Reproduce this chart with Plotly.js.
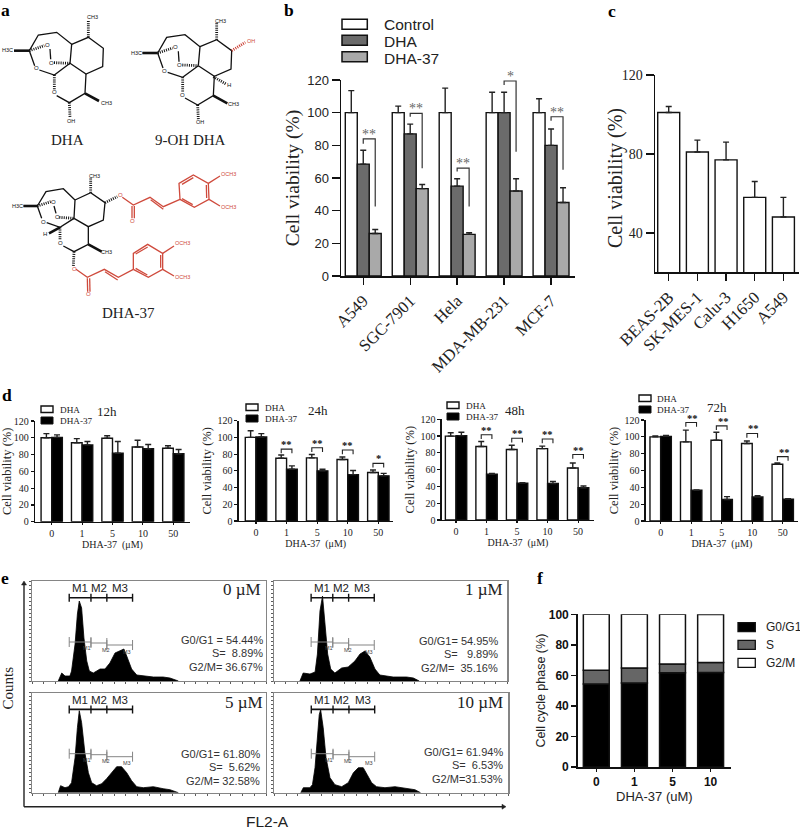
<!DOCTYPE html>
<html><head><meta charset="utf-8">
<script src="https://cdn.plot.ly/plotly-3.0.1.min.js"></script>
<style>html,body{margin:0;padding:0;background:#fff}</style></head>
<body><div id="chart" style="width:800px;height:829px"></div>
<script>
// ---------- data ----------
const bCats = ['A549','SGC-7901','Hela','MDA-MB-231','MCF-7'];
const bControl = [100,100,100,100,100];
const bControlErr = [13.5,4,15,12.5,8.5];
const bDHA = [68.5,87,55,100,80];
const bDHAErr = [8.5,6,4.5,12.5,10];
const bDHA37 = [26,53.5,25.5,52,45];
const bDHA37Err = [2.5,2.5,1,7.5,9];
const bBrackets = [[84,81,42.5,'**'],[99.6,97.5,66,'**'],[66,64,42.5,'**'],[119.4,117,76,'*'],[97.5,95,65,'**']];

const cCats = ['BEAS-2B','SK-MES-1','Calu-3','H1650','A549'];
const cVals = [101,81,77,58,48];
const cErr = [3,6,9,8,10];

const dCats = ['0','1','5','10','50'];
const d12DHA = [100,94,99.5,89,87.5], d12DHAErr = [5,5,3,8,3];
const d12D37 = [100.5,91.5,81.5,87,81], d12D37Err = [3,4,14,5,5];
const d24DHA = [100,75,75.5,73.5,58], d24DHAErr = [8,4,4,3,3];
const d24D37 = [100.5,62,60,55.5,54], d24D37Err = [4,4,2,5,3];
const d48DHA = [100,87.5,84,85,62], d48DHAErr = [4,6,5,3,6];
const d48D37 = [100.5,54.5,44,43.5,38.5], d48D37Err = [4,1,0.5,2.5,2];
const d72DHA = [100,94,96,92,67.5], d72DHAErr = [1,14,9.5,3,1.5];
const d72D37 = [100.5,36.5,25.5,28.5,26], d72D37Err = [1,0.5,3.5,1.5,0.5];
const d24Sig = [[1,86,'**'],[2,87.6,'**'],[3,85,'**'],[4,69,'*']];
const d48Sig = [[1,101.5,'**'],[2,97.5,'**'],[3,96.5,'**'],[4,78,'**']];
const d72Sig = [[1,117,'**'],[2,113,'**'],[3,104,'**'],[4,76.5,'**']];

const hist0X=[11.1,12.6,14,16.1,16.8,18.3,19.3,20.1,21.1,22.1,23.3,24.4,26.1,29,31.1,33.2,35.4,37.5,39.2,40.4,42.5,44.7,47.5,51.8,56,58.9,62.5];
const hist0Y=[0,8,5,5,10,37,67,80,73,43,20,10,8,12,12,18,28,30,32,25,12,6,5,4,4,3,0];
const hist1X=[11,12.4,15.3,17.5,18.5,19.6,20.7,21.7,22.9,24.2,26,28.9,31.7,34.6,36.8,38.9,41,43.2,45.3,51,56.8,59.7,62.2];
const hist1Y=[0,8,7,9,27,70,85,60,27,12,8,13,14,20,27,30,24,12,6,4,4,3,0];
const hist2X=[11.1,12.1,14,15.5,16.8,18.3,19.3,20.1,21.1,22.5,24,25.4,27.5,29.7,31.8,34,36.1,38.2,40.4,42.5,44.7,47.5,51.8,56,58.9,62.5];
const hist2Y=[0,7,5,6,10,35,65,82,70,40,20,10,7,9,14,20,26,26,20,12,6,5,6,4,3,0];
const hist3X=[11.3,12.4,15.2,16.3,17.4,18.4,19.2,19.8,20.9,22.1,23.8,25.9,28.8,31.6,33.8,35.9,38,39.7,41.6,43.7,47.3,51.6,56.6,60.1,62.5];
const hist3Y=[0,5,5,8,25,60,78,83,65,35,15,8,6,10,20,25,25,18,10,6,5,6,4,3,0];
const doseLabels = ['0 µM','1 µM','5 µM','10 µM'];
const statText = [
 ['G0/G1 = 54.44%','S=\u00a0\u00a08.89%','G2/M= 36.67%'],
 ['G0/G1= 54.95%','S=\u00a0\u00a0\u00a09.89%','G2/M=\u00a0\u00a035.16%'],
 ['G0/G1= 61.80%','S=\u00a0\u00a05.62%','G2/M= 32.58%'],
 ['G0/G1= 61.94%','S=\u00a0\u00a06.53%','G2/M=31.53%']];

const fCats = ['0','1','5','10'];
const fG0G1 = [54.4,55,61.8,61.9];
const fS = [8.9,9.9,5.6,6.5];
const fG2M = [36.7,35.1,32.6,31.5];

// structure diagrams of panel a: polylines in reference zoom units
const dhaBonds=[[[88,152],[115,105],[170,97],[215,133],[210,190]],[[215,133],[265,112],[310,145],[308,200],[258,222],[210,190]],[[258,222],[255,280],[208,308],[170,287]],[[88,152],[104,197]],[[118,210],[163,225],[210,190]],[[150,147],[152,178]]];
const dhaWedge=[[[42,152],[88,152]],[[255,280],[297,303]]];
const dhaHash=[[[265,112],[265,62]],[[163,225],[163,268]],[[88,152],[133,137]],[[162,188],[210,190]],[[208,308],[210,352]]];
const oh9Wedge=[[[640,230],[678,252]]];
const oh9Red=[[[695,152],[736,127]]];
const d37Bonds=[[[112,618],[138,575],[190,566],[225,600],[222,655]],[[225,600],[272,578],[315,608],[310,660],[265,680],[222,655]],[[265,680],[265,733],[222,755],[190,738]],[[112,618],[125,655]],[[140,668],[180,682],[222,655]],[[162,618],[168,640]]];
const d37Wedge=[[[70,618],[112,618]],[[265,733],[305,755]],[[180,682],[147,700]]];
const d37Hash=[[[272,578],[272,535]],[[180,682],[180,720]],[[112,618],[152,605]],[[178,652],[222,655]],[[315,608],[352,590]],[[222,755],[220,798]]];
const d37Red=[[[367,592],[400,615],[450,592],[490,620],[540,598]],[[396,618],[396,655]],[[403,618],[403,655]],[[452,599],[490,628]],
 [[540,598],[537,550],[580,525],[625,550],[627,598],[583,622],[540,598]],[[546,553],[580,533]],[[619,555],[620,594]],[[578,614],[546,596]],[[625,550],[660,528]],[[627,598],[660,618]],
 [[228,808],[262,832],[313,808],[355,832],[400,808]],[[262,835],[263,875]],[[269,835],[270,875]],[[315,815],[353,840]],
 [[400,808],[400,760],[443,733],[488,760],[488,808],[445,832],[400,808]],[[407,762],[443,741]],[[482,765],[482,803]],[[442,825],[407,805]],[[488,760],[522,738]],[[488,808],[522,828]]];
const blackLabels=[['CH3',277,52],['H3C',22,150],['CH3',318,308],['OH',213,362],['O',142,135],['O',153,188],['O',108,205],['O',163,277],
 ['CH3',660,62],['H3C',410,160],['CH3',700,313],['OH',600,365],['H',688,255],['O',527,142],['O',538,195],['O',493,212],['O',548,284],
 ['CH3',282,527],['H3C',52,617],['CH3',318,755],['H',135,703],['O',160,605],['O',172,652],['O',130,665],['O',180,728]];
const redLabels=[['OH',752,123],['OCH3',686,522],['OCH3',686,622],['OCH3',548,730],['OCH3',548,832],['O',360,585],['O',222,808],['O',398,663],['O',265,882]];

// ---------- helpers ----------
const SERIF='Liberation Serif', SANS='Liberation Sans', INK='#111';
const W=800,H=829,OV=12;
const xd=(l,r)=>[l/W,r/W], yd=(t,b)=>[1-b/H,1-t/H];
const traces=[],shapes=[],annos=[],layout={};
function ax(n,k){return k+(n===1?'':n);}
function lay(n,k){return k+'axis'+(n===1?'':n);}
function txt(s,x,y,size,opt={}){annos.push({text:s,x,y,xref:ax(OV,'x'),yref:ax(OV,'y'),showarrow:false,
  font:{family:opt.family||SERIF,size,color:opt.color||'#222',weight:opt.weight||400},xanchor:opt.anchor||'center',yanchor:'middle',textangle:opt.angle||0});}
function rect(x0,y0,x1,y1,fill,lw=1.5){shapes.push({type:'rect',xref:ax(OV,'x'),yref:ax(OV,'y'),x0,y0,x1,y1,fillcolor:fill,line:{color:INK,width:lw},layer:'above'});}
function polyTrace(list,color,width,dash,dx,dy){const xs=[],ys=[];list.forEach(p=>{p.forEach(q=>{xs.push((q[0]+(dx||0))/3);ys.push((q[1]+(dy||0))/3);});xs.push(null);ys.push(null);});
  traces.push({type:'scatter',mode:'lines',x:xs,y:ys,xaxis:ax(OV,'x'),yaxis:ax(OV,'y'),line:{color,width,dash:dash||'solid'},hoverinfo:'skip',connectgaps:false});}
function axes(n,x0,x1,yt,yb,xr,yr,xo,yo){
  layout[lay(n,'x')]=Object.assign({domain:xd(x0,x1),range:xr,anchor:ax(n,'y'),showgrid:false,zeroline:false,showline:true,linecolor:INK,linewidth:1.5,ticks:'outside',tickcolor:INK,tickwidth:1.4,ticklen:5,fixedrange:true},xo);
  layout[lay(n,'y')]=Object.assign({domain:yd(yt,yb),range:yr,anchor:ax(n,'x'),showgrid:false,zeroline:false,showline:true,linecolor:INK,linewidth:1.5,ticks:'outside',tickcolor:INK,tickwidth:1.4,ticklen:5,fixedrange:true},yo);
}
function bar(n,cats,vals,err,color,offset,width,base,lw){
  const t={type:'bar',x:cats,y:vals,xaxis:ax(n,'x'),yaxis:ax(n,'y'),width,offset,marker:{color,line:{color:INK,width:lw||1.4}},hoverinfo:'skip'};
  if(err)t.error_y={type:'data',array:err,arrayminus:err.map(()=>0),symmetric:false,color:'#222',thickness:1.4,width:3};
  if(base)t.base=base;
  traces.push(t);
}

// ---------- panel b ----------
axes(1,341,575,80,276,[-0.474,4.51],[0,120],
 {type:'category',categoryorder:'array',categoryarray:bCats,ticklen:7,tickangle:-45,tickfont:{family:SERIF,size:16.7,color:'#222'}},
 {tickvals:[0,20,40,60,80,100,120],ticklen:8,tickfont:{family:SANS,size:13,color:'#222'},title:{text:'Cell viability (%)',font:{family:SERIF,size:19.5,color:'#222'},standoff:2}});
const bw=0.255;
bar(1,bCats,bControl,bControlErr,'#ffffff',-1.5*bw,bw);
bar(1,bCats,bDHA,bDHAErr,'#6b6b6b',-0.5*bw,bw);
bar(1,bCats,bDHA37,bDHA37Err,'#a9a9a9',0.5*bw,bw);
bBrackets.forEach((b,i)=>{
  shapes.push({type:'path',xref:'x',yref:'y',path:`M ${i} ${b[1]} L ${i} ${b[0]} L ${i+bw} ${b[0]} L ${i+bw} ${b[2]}`,line:{color:'#333',width:1.2}});
  annos.push({text:b[3],x:i+bw/2,y:b[0],xref:'x',yref:'y',showarrow:false,yanchor:'bottom',yshift:-5,font:{family:SERIF,size:14,color:'#666'}});
});
[['Control',19.3,'#ffffff',24.5],['DHA',35.3,'#6b6b6b',41],['DHA-37',51.7,'#a9a9a9',58]].forEach(l=>{
  rect(342,l[1],367.3,l[1]+10,l[2]); txt(l[0],381.7,l[3],15.5,{family:SANS,anchor:'left'});});

// ---------- panel c ----------
axes(2,655,799.3,75,272.3,[-0.478,4.555],[20,120],
 {type:'category',categoryorder:'array',categoryarray:cCats,ticklen:7,tickangle:-45,tickfont:{family:SERIF,size:16.8,color:'#222'}},
 {tickvals:[40,80,120],ticklen:8,tickfont:{family:SERIF,size:14,color:'#222'}});
bar(2,cCats,cVals,cErr,'#ffffff',-0.383,0.767);
txt('Cell viability (%)',615,178,20,{angle:-90});

// ---------- panel d ----------
const dw=0.35;
function dPanel(n,l,r,t,b,xr,a,aE,c,cE,sig){
  axes(n,l,r,t,b,xr,[0,120],
   {type:'category',categoryorder:'array',categoryarray:dCats,ticklen:2,linewidth:1.3,tickwidth:1.2,tickfont:{family:SERIF,size:10,color:'#222'},title:{text:'DHA-37  (μM)',font:{family:SERIF,size:10,color:'#222'},standoff:1}},
   {tickvals:[0,20,40,60,80,100,120],ticklen:3,linewidth:1.3,tickwidth:1.2,tickfont:{family:SERIF,size:10,color:'#222'},title:{text:'Cell viability (%)',font:{family:SERIF,size:12.5,color:'#222'},standoff:3}});
  bar(n,dCats,a,aE,'#ffffff',-dw,dw);
  bar(n,dCats,c,cE,'#000000',0,dw);
  (sig||[]).forEach(s=>{
    const xa=ax(n,'x'),ya=ax(n,'y');
    shapes.push({type:'path',xref:xa,yref:ya,path:`M ${s[0]-dw/2} ${s[1]-5} L ${s[0]-dw/2} ${s[1]} L ${s[0]+dw/2} ${s[1]} L ${s[0]+dw/2} ${s[1]-5}`,line:{color:'#222',width:1.1}});
    annos.push({text:s[2],x:s[0],y:s[1],xref:xa,yref:ya,showarrow:false,yanchor:'bottom',yshift:-3,xshift:n===6?1.5:0,font:{family:SERIF,size:10.5,color:'#111',weight:700}});
  });
}
dPanel(3,35,190,421,521.7,[-0.55,4.55],d12DHA,d12DHAErr,d12D37,d12D37Err);
dPanel(4,238.7,392.7,420.7,521,[-0.565,4.47],d24DHA,d24DHAErr,d24D37,d24D37Err,d24Sig);
dPanel(5,441.7,594.3,419.3,520,[-0.47,4.53],d48DHA,d48DHAErr,d48D37,d48D37Err,d48Sig);
dPanel(6,645.7,798,420,521,[-0.49,4.5],d72DHA,d72DHAErr,d72D37,d72D37Err,d72Sig);
[[41,406,'12h',107,411,17],[246,404,'24h',318,410,17],[447,402,'48h',515,410,17],[639,395,'72h',717,407.5,16]].forEach(g=>{
  rect(g[0],g[1],g[0]+12,g[1]+6.5,'#ffffff',1.4);
  rect(g[0],g[1]+11,g[0]+12,g[1]+18,'#000000',1);
  txt('DHA',g[0]+g[5],g[1]+3.5,9.2,{anchor:'left'});
  txt('DHA-37',g[0]+g[5],g[1]+15,9.2,{anchor:'left'});
  txt(g[2],g[3],g[4],13);
});

// ---------- panel e ----------
const hist=[[hist0X,hist0Y],[hist1X,hist1Y],[hist2X,hist2Y],[hist3X,hist3Y]];
const boxes=[[32.3,266,581,681],[274.3,507.3,581,681],[32.3,266,692.7,792.7],[274.3,508.3,692.7,792.7]];
const doseXY=[[263,589],[505,589],[265,702],[505,702]];
const statXY=[[265,640],[500,641],[261.7,754],[505,751.7]];
const GREY='#858585';
hist.forEach((h,i)=>{
  const n=7+i,b=boxes[i],xa=ax(n,'x'),ya=ax(n,'y');
  const frame={linecolor:GREY,linewidth:1.2,mirror:true,showticklabels:false,tickcolor:'#333',tickwidth:0.8,ticklen:2};
  axes(n,b[0],b[1],b[2],b[3],[0,100],[0,100],Object.assign({dtick:5,tick0:0},frame),Object.assign({dtick:4,tick0:0},frame));
  traces.push({type:'scatter',mode:'lines',x:h[0],y:h[1],xaxis:xa,yaxis:ya,fill:'tozeroy',fillcolor:'#000',line:{color:'#000',width:0.8},hoverinfo:'skip'});
  const gates=[15.8,25.1,31.9,42.9],lows=[39,38,36];
  shapes.push({type:'line',xref:xa,yref:ya,x0:gates[0],x1:gates[3],y0:83.3,y1:83.3,line:{color:'#111',width:1.6}});
  gates.forEach(g=>shapes.push({type:'line',xref:xa,yref:ya,x0:g,x1:g,y0:79.3,y1:87.3,line:{color:'#111',width:1.4}}));
  ['M1','M2','M3'].forEach((m,k)=>{
    annos.push({text:m,x:[20.4,28.5,37.7][k],y:93,xref:xa,yref:ya,showarrow:false,font:{family:SANS,size:11.5,color:'#222'}});
    annos.push({text:m,x:[23.5,31.5,40.5][k],y:[33,31.5,29.5][k],xref:xa,yref:ya,showarrow:false,font:{family:SANS,size:5.5,color:'#444'}});
    shapes.push({type:'line',xref:xa,yref:ya,x0:gates[k],x1:gates[k+1],y0:lows[k],y1:lows[k],line:{color:GREY,width:1}});
    shapes.push({type:'line',xref:xa,yref:ya,x0:gates[k],x1:gates[k],y0:lows[k]-5,y1:lows[k]+5,line:{color:GREY,width:1}});
    shapes.push({type:'line',xref:xa,yref:ya,x0:gates[k+1],x1:gates[k+1],y0:lows[k]-5,y1:lows[k]+5,line:{color:GREY,width:1}});
  });
  txt(doseLabels[i],doseXY[i][0],doseXY[i][1],17,{anchor:'right'});
  statText[i].forEach((s,k)=>txt(s,statXY[i][0],statXY[i][1]+k*13.4,11,{family:SANS,anchor:'right',color:'#333'}));
});
const ovl={xref:ax(OV,'x'),yref:ax(OV,'y')};
shapes.push(Object.assign({type:'line',x0:24,x1:24,y0:584,y1:806.7,line:{color:'#222',width:1.4}},ovl));
shapes.push(Object.assign({type:'line',x0:24,x1:503,y0:806.7,y1:806.7,line:{color:'#222',width:1.4}},ovl));
shapes.push(Object.assign({type:'path',path:'M 24 581 L 21.5 585 L 26.5 585 Z',fillcolor:'#222',line:{color:'#222',width:0.5}},ovl));
shapes.push(Object.assign({type:'path',path:'M 506 806.7 L 502 804.2 L 502 809.2 Z',fillcolor:'#222',line:{color:'#222',width:0.5}},ovl));
txt('Counts',7.5,688,15,{angle:-90});
txt('FL2-A',267,821,15.5,{family:SANS});

// ---------- panel f ----------
axes(11,577.7,731,614.3,767,[-0.488,3.535],[0,100],
 {type:'category',categoryorder:'array',categoryarray:fCats,ticklen:3,tickfont:{family:SANS,size:12,color:'#111',weight:700},title:{text:'DHA-37 (uM)',font:{family:SANS,size:13,color:'#222'},standoff:3}},
 {tickvals:[0,20,40,60,80,100],tickfont:{family:SANS,size:12,color:'#111',weight:700},title:{text:'Cell cycle phase (%)',font:{family:SANS,size:12.5,color:'#222'},standoff:0}});
const fbase2=fG0G1.map((v,i)=>v+fS[i]);
bar(11,fCats,fG0G1,null,'#000000',-0.34,0.68,null,1.5);
bar(11,fCats,fS,null,'#666666',-0.34,0.68,fG0G1,1.5);
bar(11,fCats,fG2M,null,'#ffffff',-0.34,0.68,fbase2,1.5);
[['G0/G1',622.7,'#000000',627],['S',640.3,'#666666',645],['G2/M',658.3,'#ffffff',662.7]].forEach(l=>{
  rect(738,l[1],755.3,l[1]+9,l[2],1.3); txt(l[0],764,l[3],12,{family:SANS,anchor:'left'});});

// ---------- panel a ----------
layout[lay(OV,'x')]={domain:[0,1],range:[0,W],visible:false,anchor:ax(OV,'y'),fixedrange:true};
layout[lay(OV,'y')]={domain:[0,1],range:[H,0],visible:false,anchor:ax(OV,'x'),fixedrange:true};
[[0,0],[385,7]].forEach(o=>{
  polyTrace(dhaBonds,'#111',1.3,'solid',o[0],o[1]);
  polyTrace(dhaWedge,'#111',2.6,'solid',o[0],o[1]);
  polyTrace(dhaHash,'#111',2.8,'1px,1.2px',o[0],o[1]);
});
polyTrace(oh9Wedge,'#111',2.8,'1px,1.2px');
polyTrace(oh9Red,'#c8392e',2.8,'1px,1.2px');
polyTrace(d37Bonds,'#111',1.3);
polyTrace(d37Wedge,'#111',2.6);
polyTrace(d37Hash,'#111',2.8,'1px,1.2px');
polyTrace(d37Red,'#cf4a3c',1.3);
blackLabels.forEach(l=>txt(l[0],l[1]/3,l[2]/3,l[0].length>1?5.5:6,{family:SANS,color:'#111'}));
redLabels.forEach(l=>txt(l[0],l[1]/3,l[2]/3,l[0].length>1?5.5:6,{family:SANS,color:'#cf4a3c'}));
txt('DHA',67.7,140,15);txt('9-OH DHA',190.7,140,15);txt('DHA-37',128,313,15);

// panel letters
[['a',5,10],['b',289,10],['c',612,11],['d',7,395],['e',5,578],['f',540,578]].forEach(l=>txt(l[0],l[1],l[2],17.5,{weight:700,color:'#000'}));

Object.assign(layout,{width:W,height:H,autosize:false,margin:{l:0,r:0,t:0,b:0},showlegend:false,barmode:'overlay',
  paper_bgcolor:'#fff',plot_bgcolor:'rgba(0,0,0,0)',shapes,annotations:annos});
Plotly.newPlot('chart',traces,layout,{staticPlot:true,displayModeBar:false});
</script></body></html>
